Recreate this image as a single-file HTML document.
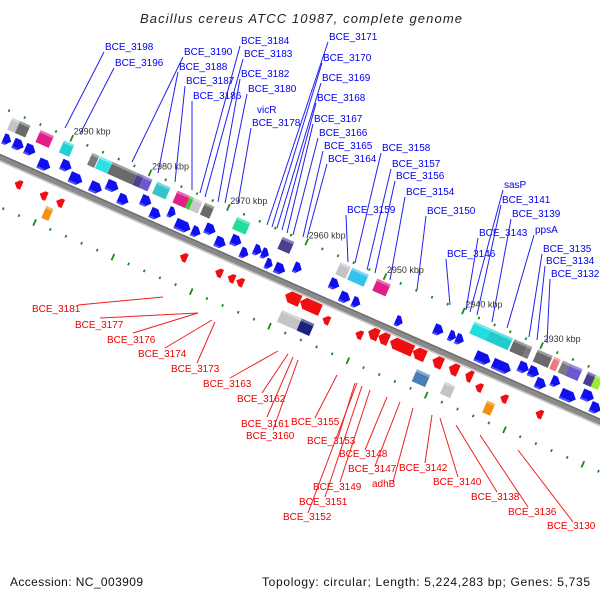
<!DOCTYPE html>
<html><head><meta charset="utf-8"><style>
html,body{margin:0;padding:0;background:#fff;}
svg{display:block;font-family:"Liberation Sans","DejaVu Sans",sans-serif;}
</style></head><body>
<svg id="chart" width="600" height="600" viewBox="0 0 600 600" xmlns="http://www.w3.org/2000/svg">
<rect width="600" height="600" fill="#fff"/>
<text x="140" y="23" font-size="13" font-style="italic" fill="#222" textLength="322" lengthAdjust="spacing">Bacillus cereus ATCC 10987, complete genome</text>
<g id="labels"></g>
<g id="track" transform="translate(0,157) rotate(23.8)"></g>
<g id="ticklabels"></g>
<text x="10" y="586" font-size="12" fill="#111" textLength="133" lengthAdjust="spacing">Accession: NC_003909</text>
<text x="262" y="586" font-size="12" fill="#111" textLength="328" lengthAdjust="spacing">Topology: circular; Length: 5,224,283 bp; Genes: 5,735</text>
</svg>
<script>
// ---- data (kbp) ----
const tickKbp = [2990, 2980, 2970, 2960, 2950, 2940, 2930];
const tickText = ["2990 kbp","2980 kbp","2970 kbp","2960 kbp","2950 kbp","2940 kbp","2930 kbp"];
const fwdStart = [2997.3,2996.0,2994.5,2992.4,2989.9,2988.4,2985.8,2984.1,2982.2,2979.7,2978.1,2976.2,2974.9,2972.8,2971.5,2969.8,2968.2,2966.6,2965.3,2964.3,2963.4,2962.2,2960.2,2955.6,2953.9,2952.3,2946.8,2942.3,2940.4,2939.5,2936.6,2934.4,2931.5,2930.2,2928.9,2927.3,2925.7,2923.4,2921.9];
const fwdEnd   = [2996.3,2994.7,2993.2,2990.9,2988.6,2986.8,2984.3,2982.6,2980.9,2978.4,2976.8,2975.3,2973.0,2971.7,2970.2,2968.5,2966.9,2965.6,2964.3,2963.4,2962.5,2960.9,2959.2,2954.4,2952.6,2951.3,2945.9,2941.1,2939.5,2938.5,2934.7,2932.1,2930.2,2928.9,2927.6,2926.2,2923.8,2921.9,2920.6];
const fwdTier  = [1,1,1,0,1,0,0,1,0,1,0,1,0,0,1,0,1,0,1,1,0,0,1,1,0,0,0,1,1,1,0,0,1,1,0,1,0,1,0];
const revStart = [2959.8,2957.9,2949.2,2947.9,2946.4,2943.5,2941.0,2938.9,2936.8, 2994.0,2990.8,2988.7,2972.9,2968.4,2966.8,2965.7,2954.7,2950.5,2935.2,2932.0,2927.5];
const revEnd   = [2957.9,2955.3,2947.9,2946.6,2943.5,2941.9,2939.7,2937.7,2935.9, 2993.1,2989.9,2987.8,2972.0,2967.5,2965.9,2964.8,2953.8,2949.6,2934.3,2931.1,2926.6];
const revTier  = [0,0,0,0,0,0,0,0,0, 1,1,1,1,1,1,1,1,1,1,1,1];
const boxStart = [2997.3,2996.3,2993.7,2990.7,2987.1,2986.1,2984.5,2981.3,2980.5,2978.8,2976.2,2974.6,2974.1,2972.7,2968.6,2962.8,2955.4,2953.9,2950.7,2938.3,2936.2,2933.2,2931.5,2930.2,2928.1,2927.0,2926.1,2923.8,2922.8];
const boxEnd   = [2996.0,2995.0,2992.0,2989.4,2986.2,2984.5,2981.3,2980.5,2979.4,2977.1,2974.6,2974.1,2973.0,2971.5,2966.9,2961.3,2954.1,2951.8,2949.0,2936.2,2933.4,2931.5,2930.9,2928.3,2927.3,2926.1,2924.5,2922.7,2921.9];
const boxColor = ["#c4c4c4","#6a6a6a","#e0208a","#22cfd4","#7a7a7a","#2ee0e6","#6a6a6a","#4a3f90","#6a5acd","#35c4cc","#e0208a","#33cc33","#c8c8c8","#6a6a6a","#22dd99","#4a3f90","#c4c4c4","#33c4ec","#e0208a","#22dddd","#22cccc","#6a6a6a","#7a7a7a","#6a6a6a","#e87a80","#7a7a7a","#6a5acd","#4a3f90","#99ee33"];
const lowStart = [2989.5,2959.4,2956.9,2942.2,2938.6,2933.2];
const lowEnd   = [2988.6,2956.9,2955.3,2940.5,2937.3,2932.2];
const lowColor = ["#f39010","#c4c4c4","#1a237e","#4a7fb5","#c4c4c4","#f39010"];
// gene labels: text, label x/y, leader end x/y
const blueNames = ["BCE_3198","BCE_3196","BCE_3190","BCE_3188","BCE_3187","BCE_3186","BCE_3184","BCE_3183","BCE_3182","BCE_3180","vicR","BCE_3178","BCE_3171","BCE_3170","BCE_3169","BCE_3168","BCE_3167","BCE_3166","BCE_3165","BCE_3164","BCE_3159","BCE_3158","BCE_3157","BCE_3156","BCE_3154","BCE_3150","BCE_3146","BCE_3143","sasP","BCE_3141","BCE_3139","ppsA","BCE_3135","BCE_3134","BCE_3132"];
const blueLX = [105,115,184,179,186,193,241,244,241,248,257,252,329,323,322,317,314,319,324,328,347,382,392,396,406,427,447,479,504,502,512,535,543,546,551];
const blueLY = [50,66,55,70,84,99,44,57,77,92,113,126,40,61,81,101,122,136,149,162,213,151,167,179,195,214,257,236,188,203,217,233,252,264,277];
const blueEX = [65,80,132,158,175,192,200,205,218,225,0,238,267,272,277,282,287,293,303,307,348,355,367,375,390,417,450,466,470,477,492,507,529,537,547];
const blueEY = [128,134,162,173,182,190,193,197,202,203,0,203,225,227,228,230,233,235,237,238,262,263,270,273,280,290,305,310,312,315,322,328,337,340,343];
const redNames = ["BCE_3181","BCE_3177","BCE_3176","BCE_3174","BCE_3173","BCE_3163","BCE_3162","BCE_3161","BCE_3160","BCE_3155","BCE_3153","BCE_3148","BCE_3147","BCE_3142","adhB","BCE_3149","BCE_3151","BCE_3152","BCE_3140","BCE_3138","BCE_3136","BCE_3130"];
const redLX = [32,75,107,138,171,203,237,241,246,291,307,339,348,399,372,313,299,283,433,471,508,547];
const redLY = [312,328,343,357,372,387,402,427,439,425,444,457,472,471,487,490,505,520,485,500,515,529];
const redSX = [78,100,133,165,197,230,262,267,273,315,338,365,375,425,393,340,325,308,458,497,528,573];
const redSY = [305,318,333,348,363,378,393,417,430,418,438,450,466,463,482,482,497,513,477,492,507,522];
const redEX = [163,198,198,212,215,278,288,293,298,337,355,387,400,432,413,370,362,357,440,456,480,518];
const redEY = [297,313,313,320,322,351,354,357,360,375,383,397,402,415,408,390,386,383,418,425,435,450];

// ---- axis ----
const U0 = 58, PX = 8.56, COS = Math.cos(23.8*Math.PI/180), SIN = Math.sin(23.8*Math.PI/180);
function u(k){ return U0 + (2990 - k) * PX; }
function toScreen(uu, vv){ return [uu*COS - vv*SIN, 157 + uu*SIN + vv*COS]; }
const NS = "http://www.w3.org/2000/svg";
const track = document.getElementById("track");
const labels = document.getElementById("labels");
const tl = document.getElementById("ticklabels");
function mk(tag, attrs, parent){ const e = document.createElementNS(NS, tag); for (const k in attrs) e.setAttribute(k, attrs[k]); parent.appendChild(e); return e; }

// backbone
let bb = mk("rect", {x:-60, y:-3, width:900, height:6, fill:"#8a8a8a"}, track);


mk("rect", {x:-60, y:-3, width:900, height:1.5, fill:"#6e6e6e"}, track);
mk("rect", {x:-60, y:3, width:900, height:1.5, fill:"#c6c6c6"}, track);

// dotted scale lines
for (let k = 2998; k >= 2916; k -= 2) {
  const big = (k % 10 === 0);
  [-46, 46].forEach(v => {
    const d = mk("rect", {x:u(k)-0.8, y:v-(big?3.5:1.3), width:1.8, height:big?7:2.6, fill:"#1a8a1a"}, track);
    
    
  });
}
tickKbp.forEach((k, i) => {
  const p = toScreen(u(k), -51);
  const t = mk("text", {x:p[0].toFixed(1), y:(p[1]+1).toFixed(1), "font-size":"9", fill:"#333"}, tl);
  t.textContent = tickText[i];
  
  
});

// top boxes
boxStart.forEach((s, i) => {
  const a = u(s), b = u(boxEnd[i]);
  const g = mk("g", {}, track);
  
  
  mk("rect", {x:a, y:-41, width:b-a, height:13, fill:boxColor[i]}, g);
  mk("rect", {x:a, y:-41, width:b-a, height:2.5, fill:"#ffffff", opacity:0.35}, g);
});
// lower boxes
lowStart.forEach((s, i) => {
  const a = u(s), b = u(lowEnd[i]);
  const g = mk("g", {}, track);
  
  
  mk("rect", {x:a, y:26, width:b-a, height:13, fill:lowColor[i]}, g);
  mk("rect", {x:a, y:26, width:b-a, height:2.5, fill:"#ffffff", opacity:0.35}, g);
});
// forward genes (blue, pointing +u)
fwdStart.forEach((s, i) => {
  const a = u(s), b = u(fwdEnd[i]);
  const top = fwdTier[i] ? -24 : -16, h = 11;
  const hd = Math.min(5, (b-a)*0.55);
  const pts = [[a,top],[b-hd,top],[b,top+h/2],[b-hd,top+h],[a,top+h]].map(p=>p.join(",")).join(" ");
  const g = mk("g", {}, track);
  
  
  mk("polygon", {points:pts, fill:"#1010ee"}, g);
  mk("rect", {x:a, y:top+h-2, width:Math.max(0,b-a-hd), height:2, fill:"#5050ff"}, g);
});
// reverse genes (red, pointing -u)
revStart.forEach((s, i) => {
  const a = u(s), b = u(revEnd[i]);
  const top = revTier[i] ? 13 : 5, h = revTier[i] ? 9 : 12;
  const hd = Math.min(5, (b-a)*0.55);
  const pts = [[a,top+h/2],[a+hd,top],[b,top],[b,top+h],[a+hd,top+h]].map(p=>p.join(",")).join(" ");
  const g = mk("g", {}, track);
  
  
  mk("polygon", {points:pts, fill:"#ee1010"}, g);
});

// labels
blueNames.forEach((n, i) => {
  if (blueEX[i] > 0) {
    const l = mk("line", {x1:blueLX[i]-1, y1:blueLY[i]+2, x2:blueEX[i], y2:blueEY[i], stroke:"#2020ee", "stroke-width":1}, labels);
    
    
  }
  const t = mk("text", {x:blueLX[i], y:blueLY[i], "font-size":"10", fill:"#0000ee"}, labels);
  t.textContent = n;
  
  
});
redNames.forEach((n, i) => {
  const l = mk("line", {x1:redSX[i], y1:redSY[i], x2:redEX[i], y2:redEY[i], stroke:"#ee2020", "stroke-width":1}, labels);
  
  
  const t = mk("text", {x:redLX[i], y:redLY[i], "font-size":"10", fill:"#ee0000"}, labels);
  t.textContent = n;
  
  
});
</script>
</body></html>
